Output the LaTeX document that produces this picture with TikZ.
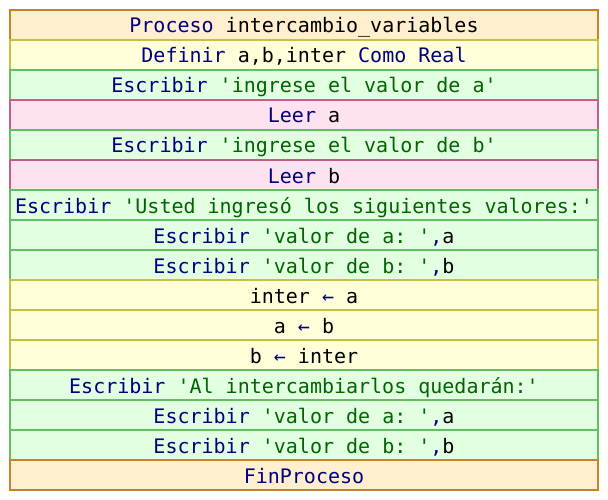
\documentclass[tikz,border=0pt]{standalone}
\usepackage{fontspec}
\setmonofont{DejaVu Sans Mono}
\definecolor{kw}{RGB}{0,0,128}
\definecolor{st}{RGB}{0,100,0}
\definecolor{procD}{RGB}{198,130,40}
\definecolor{procL}{RGB}{255,239,206}
\definecolor{asgD}{RGB}{200,190,64}
\definecolor{asgL}{RGB}{255,255,218}
\definecolor{outD}{RGB}{96,192,96}
\definecolor{outL}{RGB}{226,255,226}
\definecolor{inD}{RGB}{192,96,136}
\definecolor{inL}{RGB}{255,226,240}
\newcommand{\Kw}[1]{\textcolor{kw}{#1}}
\newcommand{\Str}[1]{\textcolor{st}{#1}}
\newcommand{\Arr}{\textcolor{kw}{←}}
\begin{document}
\begin{tikzpicture}[x=1pt,y=-1pt,
  rowbox/.style={line width=2pt, minimum width=588pt, minimum height=30pt,
    inner sep=0pt, text height=20pt, text depth=4pt,
    font=\fontsize{20}{24}\selectfont\ttfamily},
  proc/.style={rowbox, draw=procD, fill=procL},
  asg/.style={rowbox, draw=asgD, fill=asgL},
  outp/.style={rowbox, draw=outD, fill=outL},
  inp/.style={rowbox, draw=inD, fill=inL}]
\useasboundingbox (0,0) rectangle (608,500);
\node[proc] (r0) at (304,25) {\Kw{Proceso} intercambio\_variables};
\node[asg] (r1) at (304,55) {\Kw{Definir} a,b,inter \Kw{Como Real}};
\node[outp] (r2) at (304,85) {\Kw{Escribir} \Str{'ingrese el valor de a'}};
\node[inp] (r3) at (304,115) {\Kw{Leer} a};
\node[outp] (r4) at (304,145) {\Kw{Escribir} \Str{'ingrese el valor de b'}};
\node[inp] (r5) at (304,175) {\Kw{Leer} b};
\node[outp] (r6) at (304,205) {\Kw{Escribir} \Str{'Usted ingresó los siguientes valores:'}};
\node[outp] (r7) at (304,235) {\Kw{Escribir} \Str{'valor de a: '}\Kw{,}a};
\node[outp] (r8) at (304,265) {\Kw{Escribir} \Str{'valor de b: '}\Kw{,}b};
\node[asg] (r9) at (304,295) {inter \Arr{} a};
\node[asg] (r10) at (304,325) {a \Arr{} b};
\node[asg] (r11) at (304,355) {b \Arr{} inter};
\node[outp] (r12) at (304,385) {\Kw{Escribir} \Str{'Al intercambiarlos quedarán:'}};
\node[outp] (r13) at (304,415) {\Kw{Escribir} \Str{'valor de a: '}\Kw{,}a};
\node[outp] (r14) at (304,445) {\Kw{Escribir} \Str{'valor de b: '}\Kw{,}b};
\node[proc] (r15) at (304,475) {\Kw{FinProceso}};
\end{tikzpicture}
\end{document}
